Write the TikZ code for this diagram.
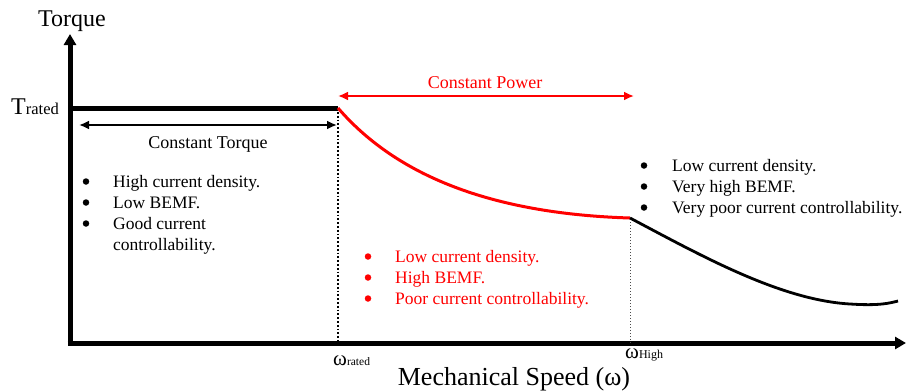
\documentclass[tikz,border=0pt]{standalone}
\usepackage{fontspec}
\setmainfont{Liberation Serif}
\usetikzlibrary{arrows.meta}
\definecolor{cpred}{RGB}{255,0,0}
\tikzset{
  axisline/.style={line width=5pt,-{Triangle[length=11pt,width=12pt]}},
  dimarrow/.style={line width=2.2pt,{Latex[length=10pt,width=9pt]}-{Latex[length=10pt,width=9pt]}},
  note/.style={font=\fontsize{17.5}{21}\selectfont,anchor=base west,inner sep=0pt},
  bul/.style={circle,fill,inner sep=0pt,minimum size=6.5pt},
  caption/.style={font=\fontsize{18}{20}\selectfont,inner sep=0pt,anchor=base},
  guide/.style={line width=1.8pt,dotted},
}
\begin{document}
\begin{tikzpicture}[x=1pt,y=-1pt]
\useasboundingbox (0,0) rectangle (906,391);
% axes
\coordinate (O) at (70,343);
\coordinate (ytop) at (70,34);
\coordinate (xend) at (906,343);
\draw[axisline] (70,345.5) -- (ytop);
\draw[axisline] (67.5,343) -- (xend);
\node[font=\fontsize{24}{26}\selectfont,inner sep=0pt,anchor=base] (tlabel) at (72,26) {Torque};
\node[font=\fontsize{26}{28}\selectfont,inner sep=0pt,anchor=base] (xlabel) at (514,385) {Mechanical Speed (ω)};
\node[inner sep=0pt,anchor=base west] (trated) at (11,114) {\fontsize{24}{26}\selectfont T\fontsize{16.5}{18}\selectfont rated};
% operating points
\coordinate (Pr) at (338,108);
\coordinate (Ph) at (630,218);
\coordinate (Pr0) at (338,343);
\coordinate (Ph0) at (630,343);
\node[inner sep=0pt,anchor=base west] (wrated) at (333,365) {\fontsize{21}{20}\selectfont ω\fontsize{11.5}{12}\selectfont rated};
\node[inner sep=0pt,anchor=base west] (whigh) at (625,358) {\fontsize{21}{20}\selectfont ω\fontsize{12}{12}\selectfont High};
% torque curve
\draw[line width=5pt] (70,108) -- (Pr);
\draw[cpred,line width=3pt] (Pr) .. controls (400,180) and (500,214) .. (Ph);
\draw[line width=2.8pt] (Ph) .. controls (700,255) and (780,300) .. (850,304) .. controls (880,306) and (890,303) .. (898,301);
% guides
\draw[guide] (338,112) -- (Pr0);
\draw[line width=1pt,dotted,black!70] (630,222) -- (Ph0);
% region arrows
\coordinate (ctL) at (79,125);
\coordinate (ctR) at (337,125);
\draw[dimarrow] (ctL) -- (ctR);
\node[caption] (ctlabel) at (208,148) {Constant Torque};
\coordinate (cpL) at (338,96);
\coordinate (cpR) at (634,96);
\draw[dimarrow,cpred] (cpL) -- (cpR);
\node[caption,text=cpred] (cplabel) at (485,88) {Constant Power};
% constant-torque region notes
\node[bul] (a1b) at (86,181.5) {};
\node[note] (a1) at (113,187) {High current density.};
\node[bul] (a2b) at (86,202.5) {};
\node[note] (a2) at (113,208) {Low BEMF.};
\node[bul] (a3b) at (86,223.5) {};
\node[note] (a3) at (113,229) {Good current};
\node[note] (a4) at (113,250) {controllability.};
% constant-power region notes
\begin{scope}[every node/.append style={text=cpred}]
\node[bul,fill=cpred] (b1b) at (368,256.5) {};
\node[note] (b1) at (395,262) {Low current density.};
\node[bul,fill=cpred] (b2b) at (368,277.5) {};
\node[note] (b2) at (395,283) {High BEMF.};
\node[bul,fill=cpred] (b3b) at (368,298.5) {};
\node[note] (b3) at (395,304) {Poor current controllability.};
\end{scope}
% high-speed region notes
\node[bul] (c1b) at (644,165.5) {};
\node[note] (c1) at (672,171) {Low current density.};
\node[bul] (c2b) at (644,186.5) {};
\node[note] (c2) at (672,192) {Very high BEMF.};
\node[bul] (c3b) at (644,207.5) {};
\node[note] (c3) at (672,213) {Very poor current controllability.};
\end{tikzpicture}
\end{document}
